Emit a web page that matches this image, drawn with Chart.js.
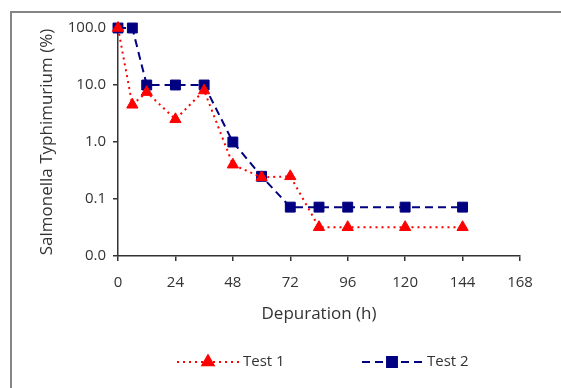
<!DOCTYPE html>
<html>
<head>
<meta charset="utf-8">
<script src="https://cdn.jsdelivr.net/npm/chart.js@4/dist/chart.umd.min.js"></script>
<style>
  html, body { margin: 0; padding: 0; background: #fff; }
  #wrap { position: relative; width: 561px; height: 388px; }
  canvas { display: block; }
</style>
</head>
<body>
<div id="wrap"><canvas id="c" width="561" height="388"></canvas></div>
<script>
// ---- data ----
const hours = [0, 6, 12, 24, 36, 48, 60, 72, 84, 96, 120, 144];
const test1 = [100, 4.5, 7.5, 2.5, 8, 0.4, 0.24, 0.25, 0.032, 0.032, 0.032, 0.032];
const test2 = [100, 100, 10, 10, 10, 1, 0.25, 0.072, 0.072, 0.072, 0.072, 0.072];
const yTickValues = [0.01, 0.1, 1, 10, 100];
const xTickStep = 24;
const seriesNames = ['Test 1', 'Test 2'];
const xTitle = 'Depuration (h)';
const yTitle = 'Salmonella Typhimurium (%)';

const FONT = '"Open Sans", "DejaVu Sans", sans-serif';
const TEXT = '#333333';
const RED = '#ff0000';
const NAVY = '#000080';

const toXY = (xs, ys) => xs.map((x, i) => ({ x: x, y: ys[i] }));

const frame = {
  id: 'frame',
  beforeDraw(chart) {
    const ctx = chart.ctx;
    ctx.save();
    ctx.strokeStyle = '#858585';
    ctx.lineWidth = 2;
    ctx.beginPath();
    ctx.moveTo(11, 400);
    ctx.lineTo(11, 12);
    ctx.lineTo(570, 12);
    ctx.stroke();
    ctx.restore();
  }
};

const legendPlugin = {
  id: 'customLegend',
  afterDraw(chart) {
    const ctx = chart.ctx;
    const items = [
      { ds: chart.data.datasets[0], x0: 177, x1: 240, mx: 208, tx: 243 },
      { ds: chart.data.datasets[1], x0: 362, x1: 423, mx: 392, tx: 427 }
    ];
    const y = 362;
    ctx.save();
    items.forEach(it => {
      const ds = it.ds;
      ctx.strokeStyle = ds.borderColor;
      ctx.lineWidth = ds.borderWidth;
      ctx.setLineDash(ds.borderDash);
      ctx.beginPath();
      ctx.moveTo(it.x0, y);
      ctx.lineTo(it.x1, y);
      ctx.stroke();
      ctx.setLineDash([]);
      ctx.fillStyle = ds.pointBackgroundColor;
      ctx.strokeStyle = ds.pointBorderColor;
      Chart.helpers.drawPoint(ctx, {
        pointStyle: ds.pointStyle, radius: ds.pointRadius, borderWidth: 1, rotation: 0
      }, it.mx, y);
      ctx.fillStyle = TEXT;
      ctx.font = '15px ' + FONT;
      ctx.textBaseline = 'middle';
      ctx.textAlign = 'left';
      ctx.fillText(ds.label, it.tx, y);
    });
    ctx.restore();
  }
};

new Chart(document.getElementById('c'), {
  type: 'line',
  data: {
    datasets: [
      {
        label: seriesNames[0],
        data: toXY(hours, test1),
        borderColor: RED,
        borderWidth: 2,
        borderDash: [2, 4],
        pointStyle: 'triangle',
        pointRadius: 6.5,
        pointHoverRadius: 6.5,
        pointBackgroundColor: RED,
        pointBorderColor: RED,
        pointBorderWidth: 1,
        fill: false,
        tension: 0,
        clip: false
      },
      {
        label: seriesNames[1],
        data: toXY(hours, test2),
        borderColor: NAVY,
        borderWidth: 2,
        borderDash: [8, 5],
        pointStyle: 'rect',
        pointRadius: 7,
        pointHoverRadius: 7,
        pointBackgroundColor: NAVY,
        pointBorderColor: NAVY,
        pointBorderWidth: 1,
        fill: false,
        tension: 0,
        clip: false
      }
    ]
  },
  options: {
    responsive: false,
    animation: false,
    events: [],
    layout: { padding: { left: 33, top: 28, right: 41, bottom: 62 } },
    plugins: { legend: { display: false }, tooltip: { enabled: false } },
    scales: {
      x: {
        type: 'linear',
        min: 0, max: 168,
        afterFit(s) { s.height = 70; },
        ticks: { stepSize: xTickStep, color: TEXT, font: { family: FONT, size: 15 }, padding: 13, maxRotation: 0 },
        grid: { display: true, drawOnChartArea: false, drawTicks: true, tickLength: 5, color: '#333', lineWidth: 1.5 },
        border: { display: true, color: '#333', width: 1.5 },
        title: { display: true, text: xTitle, color: TEXT, font: { family: FONT, size: 17 }, padding: { top: 4, bottom: 2 } }
      },
      y: {
        type: 'logarithmic',
        min: 0.01, max: 100,
        afterFit(s) { s.width = 85; },
        afterBuildTicks(s) { s.ticks = yTickValues.map(v => ({ value: v })); },
        ticks: { color: TEXT, font: { family: FONT, size: 15 }, padding: 7, callback: v => Number(v).toFixed(1) },
        grid: { display: true, drawOnChartArea: false, drawTicks: true, tickLength: 5, color: '#333', lineWidth: 1.5 },
        border: { display: true, color: '#333', width: 1.5 },
        title: { display: true, text: yTitle, color: TEXT, font: { family: FONT, size: 17 }, padding: { top: 4, bottom: 4 } }
      }
    }
  },
  plugins: [frame, legendPlugin]
});
</script>
</body>
</html>
